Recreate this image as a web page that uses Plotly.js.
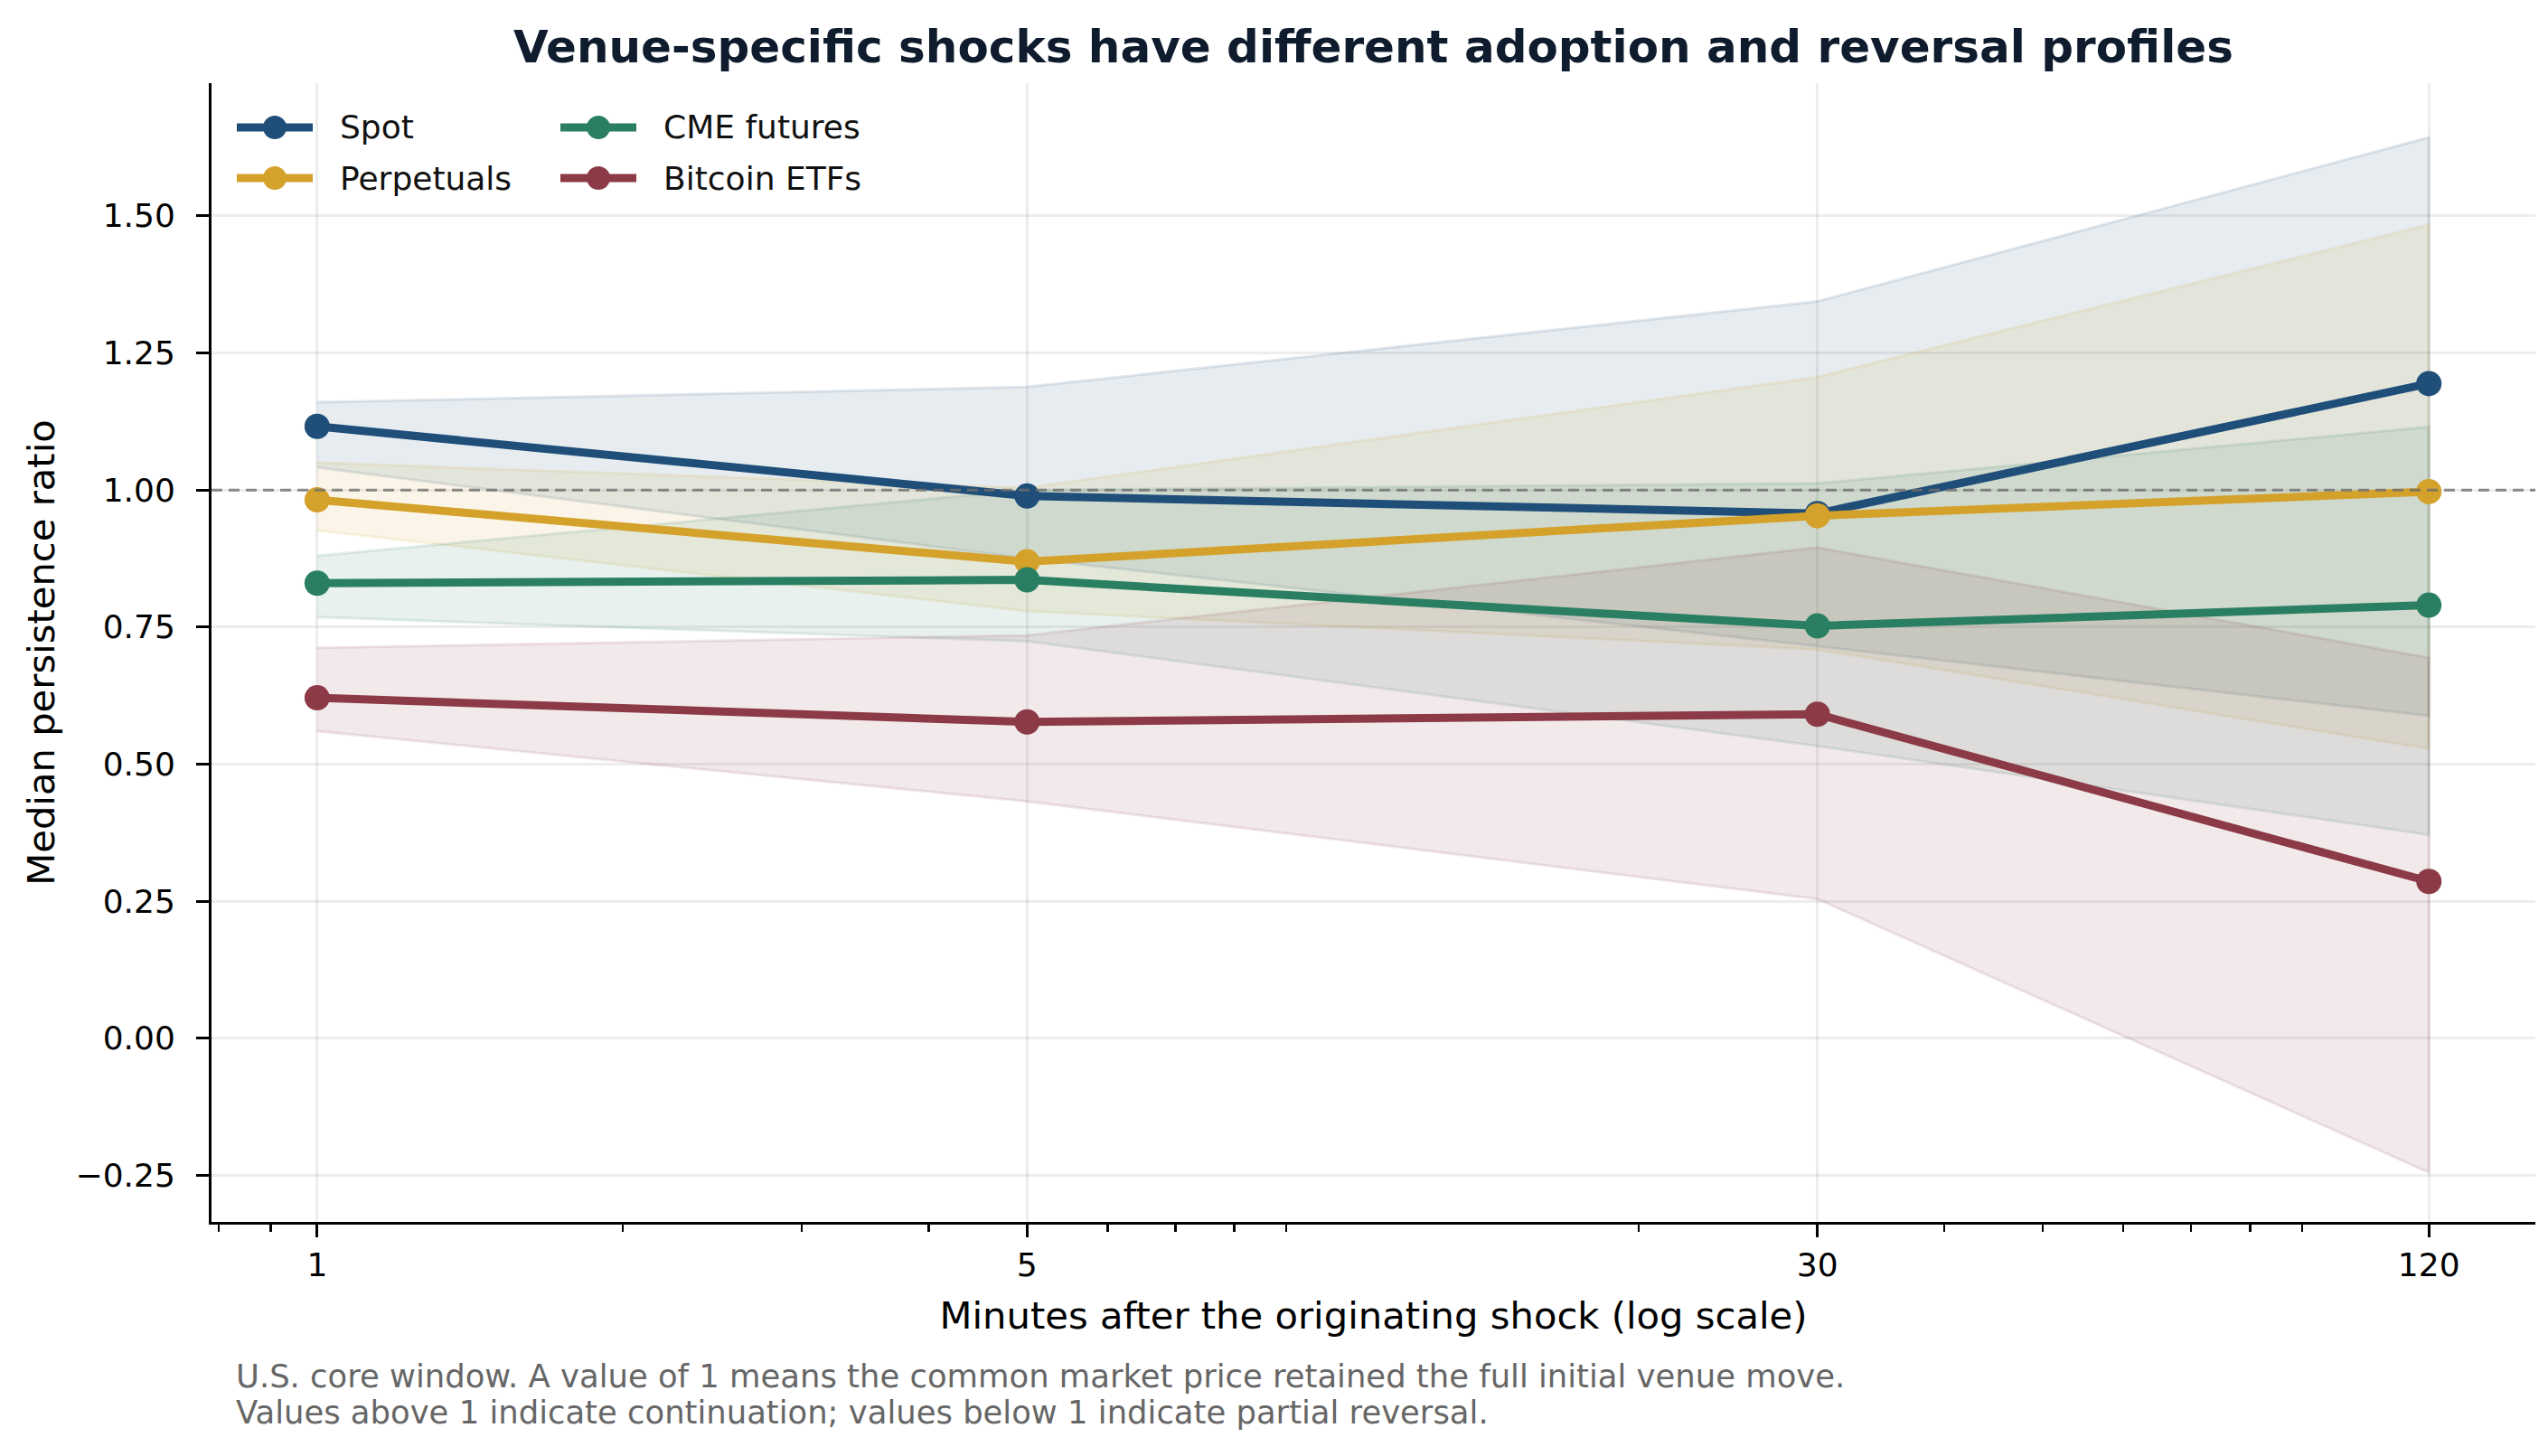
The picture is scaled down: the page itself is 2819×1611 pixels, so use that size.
<!DOCTYPE html>
<html>
<head>
<meta charset="utf-8">
<script src="https://cdn.plot.ly/plotly-3.0.1.min.js"></script>
<style>
  html, body { margin: 0; padding: 0; background: #fff; }
  #chart { width: 2819px; height: 1611px; }
</style>
</head>
<body>
<div id="chart"></div>
<script>
// Minutes after the shock (x axis, log scale)
var minutes = [1, 5, 30, 120];

// Median persistence ratio and band per venue
var spot   = [1.116, 0.989, 0.957, 1.194];
var spotLo = [1.041, 0.875, 0.715, 0.588];
var spotHi = [1.160, 1.188, 1.344, 1.643];

var perp   = [0.982, 0.869, 0.953, 0.997];
var perpLo = [0.926, 0.779, 0.709, 0.528];
var perpHi = [1.050, 1.004, 1.206, 1.484];

var cme   = [0.830, 0.836, 0.752, 0.790];
var cmeLo = [0.768, 0.724, 0.533, 0.371];
var cmeHi = [0.880, 1.000, 1.012, 1.115];

var etf   = [0.621, 0.577, 0.591, 0.286];
var etfLo = [0.560, 0.432, 0.254, -0.245];
var etfHi = [0.712, 0.735, 0.895, 0.694];

var xTickVals = [1, 5, 30, 120];
var xTickText = ["1", "5", "30", "120"];
var xMinorVals = [0.8, 0.9, 2, 3, 4, 6, 7, 8, 9, 20, 40, 50, 60, 70, 80, 90];
var yTickVals = [-0.25, 0, 0.25, 0.5, 0.75, 1.0, 1.25, 1.5];

var venues = [
  {name: "Spot",         y: spot, lo: spotLo, hi: spotHi, rgb: [31, 78, 121],  col: 0, row: 0},
  {name: "Perpetuals",   y: perp, lo: perpLo, hi: perpHi, rgb: [212, 161, 42], col: 0, row: 1},
  {name: "CME futures",  y: cme,  lo: cmeLo,  hi: cmeHi,  rgb: [42, 127, 98],  col: 1, row: 0},
  {name: "Bitcoin ETFs", y: etf,  lo: etfLo,  hi: etfHi,  rgb: [139, 58, 70],  col: 1, row: 1}
];

function rgba(c, a) {
  return "rgba(" + c[0] + "," + c[1] + "," + c[2] + "," + a + ")";
}

// plot area in pixels, used to place the legend in paper units
var W = 2819, H = 1611;
var M = {l: 234, r: 14, t: 92, b: 259};
var plotW = W - M.l - M.r, plotH = H - M.t - M.b;
function px(x) { return (x - M.l) / plotW; }
function py(y) { return 1 - (y - M.t) / plotH; }

var font = "DejaVu Sans, sans-serif";
var data = [];

// bands first, so the median lines sit on top
venues.forEach(function (v) {
  data.push({
    x: minutes.concat(minutes.slice().reverse()),
    y: v.hi.concat(v.lo.slice().reverse()),
    type: "scatter",
    mode: "lines",
    fill: "toself",
    fillcolor: rgba(v.rgb, 0.11),
    line: {color: rgba(v.rgb, 0.12), width: 3},
    showlegend: false,
    hoverinfo: "skip"
  });
});

venues.forEach(function (v) {
  data.push({
    x: minutes,
    y: v.y,
    type: "scatter",
    mode: "lines+markers",
    name: v.name,
    line: {color: rgba(v.rgb, 1), width: 9},
    marker: {color: rgba(v.rgb, 1), size: 28}
  });
});

// legend drawn by hand (two columns, long handles like the original)
var legCols = [262, 620];
var legRows = [141, 197];
var handleLen = 84, textGap = 28;
var shapes = [{
  type: "line",
  xref: "paper", x0: 0, x1: 1,
  yref: "y", y0: 1, y1: 1,
  line: {color: "rgba(110,110,110,0.8)", width: 3, dash: "12px,7px"},
  layer: "above"
}];
var annotations = [];

venues.forEach(function (v) {
  var x0 = legCols[v.col], yy = legRows[v.row];
  shapes.push({
    type: "line", xref: "paper", yref: "paper",
    x0: px(x0), x1: px(x0 + handleLen), y0: py(yy), y1: py(yy),
    line: {color: rgba(v.rgb, 1), width: 9}
  });
  shapes.push({
    type: "circle", xref: "paper", yref: "paper",
    xsizemode: "pixel", ysizemode: "pixel",
    xanchor: px(x0 + handleLen / 2), yanchor: py(yy),
    x0: -13, x1: 13, y0: -13, y1: 13,
    fillcolor: rgba(v.rgb, 1), line: {width: 0}
  });
  annotations.push({
    text: v.name, xref: "paper", yref: "paper",
    x: px(x0 + handleLen + textGap), y: py(yy),
    xanchor: "left", yanchor: "middle", showarrow: false,
    font: {family: font, size: 36, color: "#111"}
  });
});

annotations.push({
  text: "U.S. core window. A value of 1 means the common market price retained the full initial venue move.",
  xref: "paper", yref: "paper",
  x: px(259), y: py(1522),
  xanchor: "left", yanchor: "middle",
  showarrow: false,
  font: {family: font, size: 35.4, color: "#666"}
});
annotations.push({
  text: "Values above 1 indicate continuation; values below 1 indicate partial reversal.",
  xref: "paper", yref: "paper",
  x: px(259), y: py(1562),
  xanchor: "left", yanchor: "middle",
  showarrow: false,
  font: {family: font, size: 35.4, color: "#666"}
});

var layout = {
  width: W,
  height: H,
  paper_bgcolor: "#fff",
  plot_bgcolor: "#fff",
  margin: M,
  font: {family: font, color: "#000"},
  showlegend: false,
  hovermode: false,
  title: {
    text: "<b>Venue-specific shocks have different adoption and reversal profiles</b>",
    font: {family: font, size: 50, color: "#0f1c2e"},
    xref: "paper", x: 0.5, xanchor: "center",
    yref: "container", y: 0.968, yanchor: "middle"
  },
  xaxis: {
    type: "log",
    range: [-0.104, 2.184],
    tickmode: "array",
    tickvals: xTickVals,
    ticktext: xTickText,
    ticks: "outside",
    ticklen: 14,
    tickwidth: 3,
    tickcolor: "#000",
    ticklabelstandoff: 0,
    tickfont: {family: font, size: 36, color: "#000"},
    showline: true,
    linecolor: "#000",
    linewidth: 3,
    showgrid: true,
    gridcolor: "rgba(0,0,0,0.07)",
    gridwidth: 3,
    zeroline: false,
    minor: {
      tickmode: "array",
      tickvals: xMinorVals,
      ticks: "outside",
      ticklen: 8,
      tickwidth: 2.5,
      tickcolor: "#000",
      showgrid: false
    },
    title: {
      text: "Minutes after the originating shock (log scale)",
      font: {family: font, size: 41.7, color: "#000"},
      standoff: 22
    }
  },
  yaxis: {
    range: [-0.335, 1.742],
    tickmode: "array",
    tickvals: yTickVals,
    tickformat: ".2f",
    ticks: "outside",
    ticklen: 14,
    tickwidth: 3,
    tickcolor: "#000",
    ticklabelstandoff: 16,
    tickfont: {family: font, size: 36, color: "#000"},
    showline: true,
    linecolor: "#000",
    linewidth: 3,
    showgrid: true,
    gridcolor: "rgba(0,0,0,0.07)",
    gridwidth: 3,
    zeroline: false,
    title: {
      text: "Median persistence ratio",
      font: {family: font, size: 41.7, color: "#000"},
      standoff: 10
    }
  },
  shapes: shapes,
  annotations: annotations
};

Plotly.newPlot("chart", data, layout, {staticPlot: true, displayModeBar: false});
</script>
</body>
</html>
